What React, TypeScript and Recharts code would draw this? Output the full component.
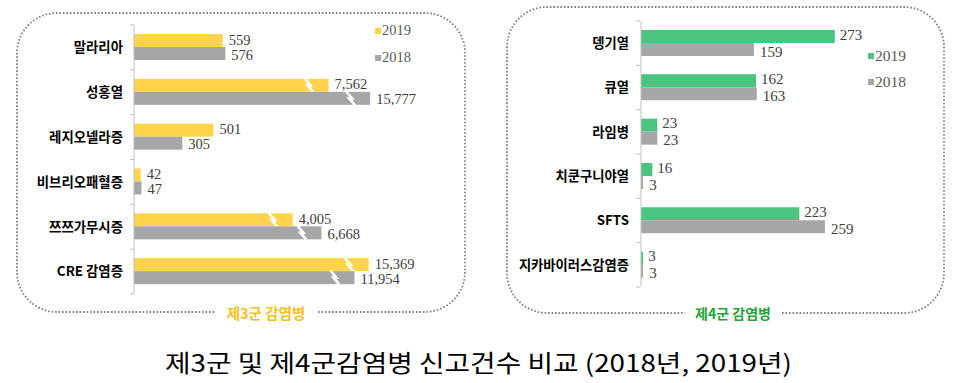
import React from 'react';
import { BarChart, Bar, XAxis, YAxis, LabelList, Legend } from 'recharts';

// ---------------- data ----------------
const group3Categories = ['말라리아', '성홍열', '레지오넬라증', '비브리오패혈증', '쯔쯔가무시증', 'CRE 감염증'];
const group3Values2019 = [559, 7562, 501, 42, 4005, 15369];
const group3Values2018 = [576, 15777, 305, 47, 6668, 11954];

const group4Categories = ['뎅기열', '큐열', '라임병', '치쿤구니야열', 'SFTS', '지카바이러스감염증'];
const group4Values2019 = [273, 162, 23, 16, 223, 3];
const group4Values2018 = [159, 163, 23, 3, 259, 3];

const seriesNames = ['2019', '2018'];
const panelTitles = ['제3군 감염병', '제4군 감염병'];
const chartTitle = '제3군 및 제4군감염병 신고건수 비교 (2018년, 2019년)';

// ---------------- styles ----------------
const YELLOW = '#FFD34C';
const GREEN = '#4CC47F';
const GRAY = '#A6A6A6';
const AXIS = '#BFBFBF';
const NUM_FONT = '"Liberation Serif", "DejaVu Serif", serif';
const KR_FONT = '"Noto Sans CJK KR", "Noto Sans", sans-serif';

// Broken axis for the 제3군 chart: linear up to 1000, then a break, then a compressed log segment 4000..16000
const BREAK_LOW = 1000;
const BREAK_HIGH = 4000;
const AXIS_TOP = 16000;
const SPAN_AFTER_BREAK = 494;
const G3_DOMAIN_MAX = 1898;
const toBrokenAxis = (v: number) =>
  v <= BREAK_LOW
    ? v
    : BREAK_LOW + (SPAN_AFTER_BREAK * Math.log10(v / BREAK_HIGH)) / Math.log10(AXIS_TOP / BREAK_HIGH);

const g3Data = group3Categories.map((name, i) => ({
  name,
  v19: group3Values2019[i],
  v18: group3Values2018[i],
  a19: toBrokenAxis(group3Values2019[i]),
  a18: toBrokenAxis(group3Values2018[i]),
}));

const g4Data = group4Categories.map((name, i) => ({
  name,
  v19: group4Values2019[i],
  v18: group4Values2018[i],
}));

const fmt = (v: any) => Number(v).toLocaleString('en-US');

const makeBrokenShape = (realKey: string) => (props: any) => {
  const { x, y, width, height, fill, payload } = props;
  const real = payload ? payload[realKey] : 0;
  const broken = real > BREAK_LOW;
  const bx = x + width - 24;
  return (
    <g>
      <rect x={x} y={y} width={Math.max(0, width)} height={height} fill={fill} />
      {broken && (
        <path
          d={`M ${bx} ${y - 0.5} L ${bx + 6} ${y + height * 0.5} L ${bx + 3} ${y + height * 0.5} L ${bx + 9} ${y + height + 0.5}`}
          stroke="#ffffff"
          strokeWidth={2.6}
          fill="none"
        />
      )}
    </g>
  );
};

const makeTick = (band: number, lastIndex: number, fontSize: number) => (props: any) => {
  const { x, y, payload, index } = props;
  const ax = x + 11;
  return (
    <g>
      <line x1={ax - 4} x2={ax} y1={y - band / 2} y2={y - band / 2} stroke={AXIS} />
      {index === lastIndex && <line x1={ax - 4} x2={ax} y1={y + band / 2} y2={y + band / 2} stroke={AXIS} />}
      <text
        x={x}
        y={y}
        dy="0.36em"
        textAnchor="end"
        fontFamily={KR_FONT}
        fontWeight={700}
        fontSize={fontSize}
        fill="#000"
      >
        {payload.value}
      </text>
    </g>
  );
};

const makeLegend = (fontSize: number, gap: number, colors: string[]) => () => (
  <div style={{ display: 'flex', flexDirection: 'column' }}>
    {seriesNames.map((name, i) => (
      <div
        key={name}
        style={{ display: 'flex', alignItems: 'center', height: gap, fontFamily: NUM_FONT, fontSize, color: '#595959' }}
      >
        <span style={{ display: 'inline-block', width: 6, height: 6, background: colors[i], marginRight: 1 }} />
        <span>{name}</span>
      </div>
    ))}
  </div>
);

const G3Chart = () => {
  const band = (294 - 25) / group3Categories.length;
  return (
    <BarChart
      width={480}
      height={330}
      layout="vertical"
      data={g3Data}
      margin={{ top: 25, right: 45, bottom: 36, left: 0 }}
      barGap={0}
      barSize={13}
    >
      <XAxis
        type="number"
        domain={[0, G3_DOMAIN_MAX]}
        allowDataOverflow
        height={0}
        tick={false}
        tickLine={false}
        axisLine={{ stroke: AXIS }}
      />
      <YAxis
        type="category"
        dataKey="name"
        width={134}
        tickSize={0}
        tickMargin={11}
        interval={0}
        tickLine={false}
        axisLine={{ stroke: AXIS }}
        tick={makeTick(band, group3Categories.length - 1, 13.4)}
      />
      <Legend
        layout="horizontal"
        verticalAlign="middle"
        align="center"
        wrapperStyle={{ left: 375, top: 17, width: 60 }}
        content={makeLegend(14.5, 27, [YELLOW, GRAY])}
      />
      <Bar dataKey="a19" name={seriesNames[0]} fill={YELLOW} isAnimationActive={false} shape={makeBrokenShape('v19')}>
        <LabelList dataKey="v19" position="right" offset={6} formatter={fmt} fill="#404040" fontSize={14.5} fontFamily={NUM_FONT} dy={-1} />
      </Bar>
      <Bar dataKey="a18" name={seriesNames[1]} fill={GRAY} isAnimationActive={false} shape={makeBrokenShape('v18')}>
        <LabelList dataKey="v18" position="right" offset={6} formatter={fmt} fill="#404040" fontSize={14.5} fontFamily={NUM_FONT} dy={1} />
      </Bar>
    </BarChart>
  );
};

const G4Chart = () => {
  const band = (287 - 21) / group4Categories.length;
  return (
    <BarChart
      width={484}
      height={330}
      layout="vertical"
      data={g4Data}
      margin={{ top: 21, right: 39, bottom: 43, left: 0 }}
      barGap={0}
      barSize={13}
    >
      <XAxis
        type="number"
        domain={[0, 400]}
        allowDataOverflow
        height={0}
        tick={false}
        tickLine={false}
        axisLine={{ stroke: AXIS }}
      />
      <YAxis
        type="category"
        dataKey="name"
        width={161}
        tickSize={0}
        tickMargin={12}
        interval={0}
        tickLine={false}
        axisLine={{ stroke: AXIS }}
        tick={makeTick(band, group4Categories.length - 1, 13.3)}
      />
      <Legend
        layout="horizontal"
        verticalAlign="middle"
        align="center"
        wrapperStyle={{ left: 388, top: 43, width: 60 }}
        content={makeLegend(15.5, 26, [GREEN, GRAY])}
      />
      <Bar dataKey="v19" name={seriesNames[0]} fill={GREEN} isAnimationActive={false}>
        <LabelList dataKey="v19" position="right" offset={5} formatter={fmt} fill="#404040" fontSize={15} fontFamily={NUM_FONT} dy={-2} />
      </Bar>
      <Bar dataKey="v18" name={seriesNames[1]} fill={GRAY} isAnimationActive={false}>
        <LabelList dataKey="v18" position="right" offset={6} formatter={fmt} fill="#404040" fontSize={15} fontFamily={NUM_FONT} dy={2} />
      </Bar>
    </BarChart>
  );
};

const borderPath = (x0: number, y0: number, x1: number, y1: number, r: number, gx0: number, gx1: number) =>
  `M ${gx1} ${y1} L ${x1 - r} ${y1} A ${r} ${r} 0 0 0 ${x1} ${y1 - r} L ${x1} ${y0 + r} A ${r} ${r} 0 0 0 ${x1 - r} ${y0} ` +
  `L ${x0 + r} ${y0} A ${r} ${r} 0 0 0 ${x0} ${y0 + r} L ${x0} ${y1 - r} A ${r} ${r} 0 0 0 ${x0 + r} ${y1} L ${gx0} ${y1}`;

export default function App() {
  return (
    <div style={{ position: 'absolute', left: 0, top: 0, width: 964, height: 383, background: '#fff', overflow: 'hidden' }}>
      <svg width={964} height={383} style={{ position: 'absolute', left: 0, top: 0 }}>
        <path
          d={borderPath(17, 13, 465, 312, 40, 215, 318)}
          fill="none"
          stroke="#7F7F7F"
          strokeWidth={1.8}
          strokeDasharray="1.6 1.9"
        />
        <path
          d={borderPath(507, 7, 944, 313, 40, 685, 782)}
          fill="none"
          stroke="#7F7F7F"
          strokeWidth={1.8}
          strokeDasharray="1.6 1.9"
        />
        <text x={266} y={312} dominantBaseline="central" textAnchor="middle" fontFamily={KR_FONT} fontWeight={700} fontSize={14.5} fill="#F5BF1E">
          {panelTitles[0]}
        </text>
        <text x={733} y={313} dominantBaseline="central" textAnchor="middle" fontFamily={KR_FONT} fontWeight={700} fontSize={14} fill="#23A33A">
          {panelTitles[1]}
        </text>
        <text
          x={478.5}
          y={361.5}
          dominantBaseline="central"
          textAnchor="middle"
          fontFamily={KR_FONT}
          fontSize={24}
          fill="#000"
          textLength={627}
          lengthAdjust="spacingAndGlyphs"
        >
          {chartTitle}
        </text>
      </svg>
      <div style={{ position: 'absolute', left: 0, top: 0 }}>
        <G3Chart />
      </div>
      <div style={{ position: 'absolute', left: 480, top: 0 }}>
        <G4Chart />
      </div>
    </div>
  );
}
